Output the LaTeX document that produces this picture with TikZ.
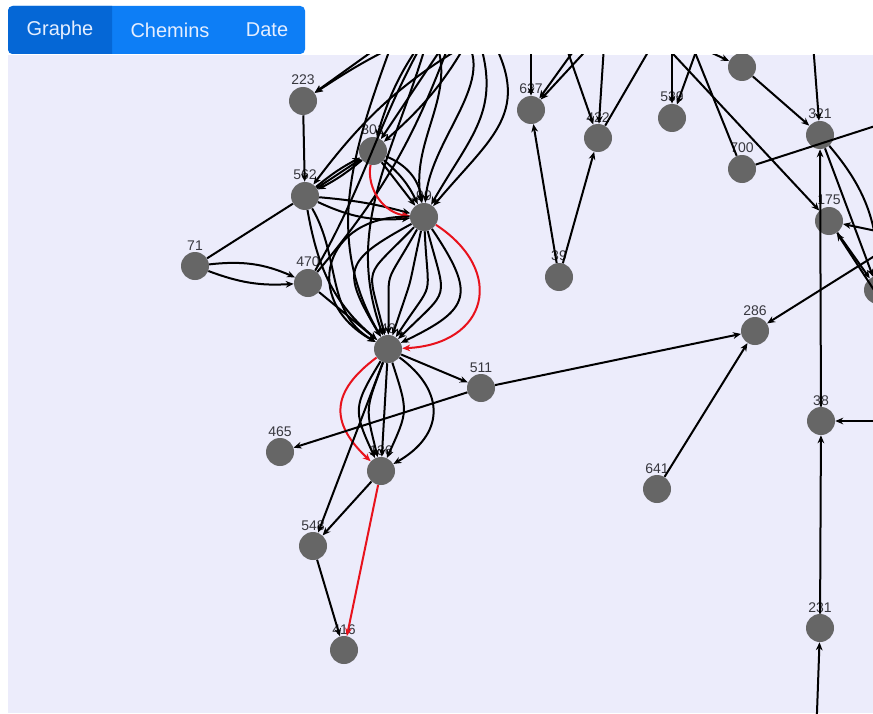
\documentclass[tikz,border=0pt]{standalone}
\usepackage{fontspec}
\setmainfont{Liberation Sans}
\usetikzlibrary{arrows.meta}
\definecolor{tabblue}{RGB}{13,126,246}
\definecolor{tabdark}{RGB}{5,103,214}
\definecolor{tabtext}{RGB}{228,238,255}
\definecolor{panel}{RGB}{236,236,251}
\definecolor{vgray}{RGB}{102,102,102}
\definecolor{lblgray}{RGB}{55,55,62}
\definecolor{pathred}{RGB}{232,18,28}

\begin{document}
\begin{tikzpicture}[x=0.75pt,y=0.75pt,
      vtx/.style={circle,fill=vgray,minimum size=21pt,inner sep=0pt},
      lbl/.style={font=\fontsize{10.5}{12}\selectfont,text=lblgray,inner sep=1pt},
      ln/.style={line width=1.5pt,black},
      ed/.style={ln,-{Stealth[length=6pt,width=5pt]}},
      hot/.style={ed,draw=pathred},
      tab/.style={text=tabtext,font=\fontsize{15}{17}\selectfont}]
  \useasboundingbox (0,0) rectangle (873,-713);
  \fill[white] (0,0) rectangle (873,-713);
  % tab bar
  \fill[tabblue,rounded corners=3.5pt] (8,-6) rectangle (305,-54);
  \begin{scope}
    \clip (8,-6) rectangle (112,-54);
    \fill[tabdark,rounded corners=3.5pt] (8,-6) rectangle (305,-54);
  \end{scope}
  \node[tab] (graphe) at (60,-30) {Graphe};
  \node[tab] (chemins) at (170,-30) {Chemins};
  \node[tab] (date) at (267,-30) {Date};
  % graph panel
  \fill[panel] (8,-55) rectangle (873,-713);
  \begin{scope}
    \clip (8,-55) rectangle (873,-713);
    % vertices
    \node[vtx,label={[lbl]above:223}] (n223) at (303,-101) {};
    \node[vtx,label={[lbl]above:301}] (n301) at (373,-151) {};
    \node[vtx,label={[lbl]above:562}] (n562) at (305,-196) {};
    \node[vtx,label={[lbl]above:99}] (n99) at (424,-217) {};
    \node[vtx,label={[lbl]above:71}] (n71) at (195,-266) {};
    \node[vtx,label={[lbl]above:470}] (n470) at (308,-283) {};
    \node[vtx,label={[lbl]above:48}] (n48) at (388,-349) {};
    \node[vtx,label={[lbl]above:511}] (n511) at (481,-388) {};
    \node[vtx,label={[lbl]above:465}] (n465) at (280,-452) {};
    \node[vtx,label={[lbl]above:136}] (n136) at (381,-471) {};
    \node[vtx,label={[lbl]above:548}] (n548) at (313,-546) {};
    \node[vtx,label={[lbl]above:416}] (n416) at (344,-650) {};
    \node[vtx,label={[lbl]above:627}] (n627) at (531,-110) {};
    \node[vtx,label={[lbl]above:422}] (n422) at (598,-138) {};
    \node[vtx,label={[lbl]above:539}] (n539) at (672,-118) {};
    \node[vtx] (nx) at (742,-67) {};
    \node[vtx,label={[lbl]above:321}] (n321) at (820,-135) {};
    \node[vtx,label={[lbl]above:700}] (n700) at (742,-169) {};
    \node[vtx,label={[lbl]above:175}] (n175) at (829,-221) {};
    \node[vtx] (nr) at (878,-290) {};
    \node[vtx,label={[lbl]above:39}] (n39) at (559,-277) {};
    \node[vtx,label={[lbl]above:286}] (n286) at (755,-331) {};
    \node[vtx,label={[lbl]above:38}] (n38) at (821,-421) {};
    \node[vtx,label={[lbl]above:641}] (n641) at (657,-489) {};
    \node[vtx,label={[lbl]above:231}] (n231) at (820,-628) {};
    % ends outside the panel
    \coordinate (t1) at (395,-35);
    \coordinate (t2) at (430,-30);
    \coordinate (t3) at (455,-28);
    \coordinate (t4) at (475,-28);
    \coordinate (t5) at (488,-32);
    \coordinate (t6) at (531,-30);
    \coordinate (t7) at (585,-35);
    \coordinate (t8) at (605,-30);
    \coordinate (t9) at (562,-35);
    \coordinate (t10) at (655,-40);
    \coordinate (t11) at (672,-30);
    \coordinate (t12) at (702,-35);
    \coordinate (t13) at (660,-40);
    \coordinate (t14) at (690,-40);
    \coordinate (t15) at (812,-30);
    \coordinate (t16) at (695,-45);
    \coordinate (r1) at (900,-118);
    \coordinate (r2) at (900,-240);
    \coordinate (r3) at (900,-236);
    \coordinate (r4) at (900,-330);
    \coordinate (r5) at (900,-421);
    \coordinate (b1) at (816,-740);
    % left cluster
    \draw[ed] (t1) -- (n223);
    \draw[ed] (t2) to[bend right=5] (n223);
    \draw[ed] (n223) -- (n562);
    \draw[ed] (t3) -- (n301);
    \draw[ed] (t4) to[bend left=10] (n301);
    \draw[ed] (t2) to[bend right=10] (n301);
    \draw[ed] (t5) to[bend right=12] (n562);
    \draw[ed] (t2) to[out=-60,in=100] (n99);
    \draw[ed] (t3) to[out=-40,in=85] (n99);
    \draw[ed] (t4) to[out=-70,in=60,looseness=1.2] (n99);
    \draw[ed] (t5) to[out=-60,in=50,looseness=1.3] (n99);
    \draw[ed] (n470) to[out=60,in=-120] (t2);
    \draw[ed] (n470) to[out=50,in=-110] (t3);
    \draw[ed] (t1) to[out=-110,in=120] (n48);
    \draw[ed] (t2) to[out=-105,in=110] (n48);
    \draw[ed] (n562) to[out=-80,in=140] (n48);
    \draw[ed] (n562) to[out=-60,in=150] (n48);
    \draw[ed] (n562) to[bend left=6] (n301);
    \draw[ed] (n562) -- (n301);
    \draw[ed] (n301) to[bend left=6] (n562);
    \draw[ed] (n562) to[bend left=5] (n99);
    \draw[ed] (n562) to[bend right=15] (n99);
    \draw[ed] (n301) -- (n99);
    \draw[ed] (n301) to[bend left=12] (n99);
    \draw[ed] (n301) to[bend left=30] (n99);
    \draw[hot] (n301) to[out=-100,in=175] (n99);
    \draw[ln] (n71) -- (n562);
    \draw[ed] (n71) to[bend left=15] (n470);
    \draw[ed] (n71) to[bend right=12] (n470);
    \draw[ed] (n470) -- (n48);
    \foreach \b in {-76,-46,-29,-14,3,18,30,49}
      \draw[ed] (n99) to[bend left=\b,looseness=1.7] (n48);
    \draw[hot] (n99) to[bend left=72,looseness=1.7] (n48);
    \foreach \b in {-28,-17,0,21,57}
      \draw[ed] (n48) to[bend left=\b,looseness=1.4] (n136);
    \draw[hot] (n48) to[bend left=-50,looseness=1.4] (n136);
    \draw[ed] (n48) -- (n511);
    \draw[ed] (n48) -- (n548);
    \draw[ed] (n136) -- (n548);
    \draw[ed] (n548) -- (n416);
    \draw[hot] (n136) -- (n416);
    \draw[ed] (n511) -- (n465);
    \draw[ed] (n511) -- (n286);
    % middle and right
    \draw[ed] (n39) -- (n627);
    \draw[ed] (n39) -- (n422);
    \draw[ed] (t6) -- (n627);
    \draw[ed] (t7) -- (n627);
    \draw[ed] (t8) -- (n627);
    \draw[ed] (t9) -- (n422);
    \draw[ed] (t8) -- (n422);
    \draw[ed] (n422) -- (t10);
    \draw[ed] (t11) -- (n539);
    \draw[ed] (t12) -- (n539);
    \draw[ed] (t13) -- (n175);
    \draw[ed] (n700) -- (t14);
    \draw[ed] (t16) -- (nx);
    \draw[ed] (nx) -- (n321);
    \draw[ed] (t15) -- (n321);
    \draw[ln] (n700) -- (r1);
    \draw[ed] (n38) -- (n321);
    \draw[ed] (n321) -- (nr);
    \draw[ed] (n321) to[bend left=20] (nr);
    \draw[ed] (n175) -- (nr);
    \draw[ed] (r3) -- (n175);
    \draw[ed] (r4) -- (n175);
    \draw[ed] (r2) -- (n286);
    \draw[ed] (n641) -- (n286);
    \draw[ed] (r5) -- (n38);
    \draw[ed] (n231) -- (n38);
    \draw[ed] (b1) -- (n231);
  \end{scope}
\end{tikzpicture}
\end{document}
